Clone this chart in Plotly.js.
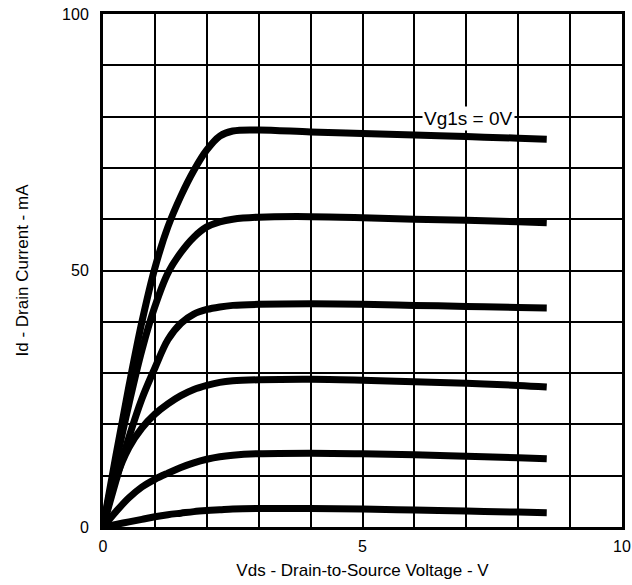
<!DOCTYPE html>
<html>
<head>
<meta charset="utf-8">
<script src="https://cdn.plot.ly/plotly-3.0.1.min.js"></script>
<style>html,body{margin:0;padding:0;background:#fff;}#chart{width:632px;height:585px;}</style>
</head>
<body>
<div id="chart"></div>
<script>
// Drain-to-source voltage (V)
const vds = [0, 0.25, 0.5, 0.75, 1, 1.25, 1.5, 1.75, 2, 2.25, 2.5, 3, 4, 5, 6, 7, 8, 8.55];
// Drain current (mA) for each gate-1 voltage step, top curve = Vg1s 0V
const id_0V   = [0, 14, 27.5, 40, 50.5, 58.5, 64.5, 69.5, 73.5, 76.2, 77.2, 77.4, 77, 76.7, 76.4, 76.1, 75.8, 75.6];
const id_s1   = [0, 12.5, 24, 34.5, 43, 49.5, 53.5, 56.5, 58.5, 59.5, 60, 60.4, 60.5, 60.3, 60, 59.8, 59.5, 59.3];
const id_s2   = [0, 9, 17.5, 25, 31, 36.5, 39.7, 41.5, 42.4, 42.9, 43.2, 43.4, 43.5, 43.4, 43.2, 43, 42.8, 42.7];
const id_s3   = [0, 9.5, 15.5, 19.3, 22, 24, 25.6, 26.8, 27.6, 28.2, 28.5, 28.7, 28.8, 28.6, 28.3, 28, 27.6, 27.3];
const id_s4   = [0, 3, 5.7, 7.8, 9.3, 10.5, 11.6, 12.5, 13.2, 13.7, 14, 14.3, 14.4, 14.3, 14.1, 13.8, 13.5, 13.3];
const id_s5   = [0, 0.5, 1, 1.5, 2, 2.4, 2.7, 3, 3.2, 3.35, 3.5, 3.6, 3.6, 3.5, 3.3, 3.1, 2.9, 2.8];
const curves = [id_0V, id_s1, id_s2, id_s3, id_s4, id_s5];
const xTicks = [0, 5, 10];
const yTicks = [0, 50, 100];
const curveLabel = "Vg1s = 0V";
const xTitle = "Vds - Drain-to-Source Voltage - V";
const yTitle = "Id - Drain Current - mA";

const FONT = "Liberation Sans, Arial, Helvetica, sans-serif";
const traces = curves.map(c => ({
  x: vds, y: c, type: "scatter", mode: "lines",
  line: {color: "#000", width: 7, shape: "spline", smoothing: 1},
  hoverinfo: "skip"
}));

const axisCommon = {
  showline: true, mirror: true, linecolor: "#000", linewidth: 3,
  showgrid: true, gridcolor: "#000", gridwidth: 2,
  zeroline: false, ticks: "", fixedrange: true,
  ticklabeloverflow: "allow",
  tickfont: {family: FONT, size: 16, color: "#000"}
};

const layout = {
  width: 632, height: 585,
  margin: {l: 103, r: 10, t: 14, b: 58},
  paper_bgcolor: "#fff", plot_bgcolor: "#fff",
  showlegend: false,
  font: {family: FONT, color: "#000"},
  xaxis: Object.assign({}, axisCommon, {
    range: [0, 10], tickmode: "array", tickvals: xTicks, ticktext: xTicks.map(String),
    minor: {dtick: 1, showgrid: true, gridcolor: "#000", gridwidth: 2, ticks: ""},
    ticklabelstandoff: 3,
    title: {text: xTitle, font: {family: FONT, size: 17, color: "#000"}, standoff: 10},
    automargin: false
  }),
  yaxis: Object.assign({}, axisCommon, {
    range: [0, 100], tickmode: "array", tickvals: yTicks, ticktext: yTicks.map(String),
    minor: {dtick: 10, showgrid: true, gridcolor: "#000", gridwidth: 2, ticks: ""},
    ticklabelstandoff: 8,
    title: {text: yTitle, font: {family: FONT, size: 17, color: "#000"}, standoff: 30},
    automargin: false
  }),
  annotations: [{
    x: 7.05, y: 79.6, xref: "x", yref: "y", text: curveLabel, showarrow: false,
    font: {family: FONT, size: 19, color: "#000"}, bgcolor: "#fff", borderpad: 1
  }]
};

Plotly.newPlot("chart", traces, layout, {staticPlot: true, displayModeBar: false});
</script>
</body>
</html>
